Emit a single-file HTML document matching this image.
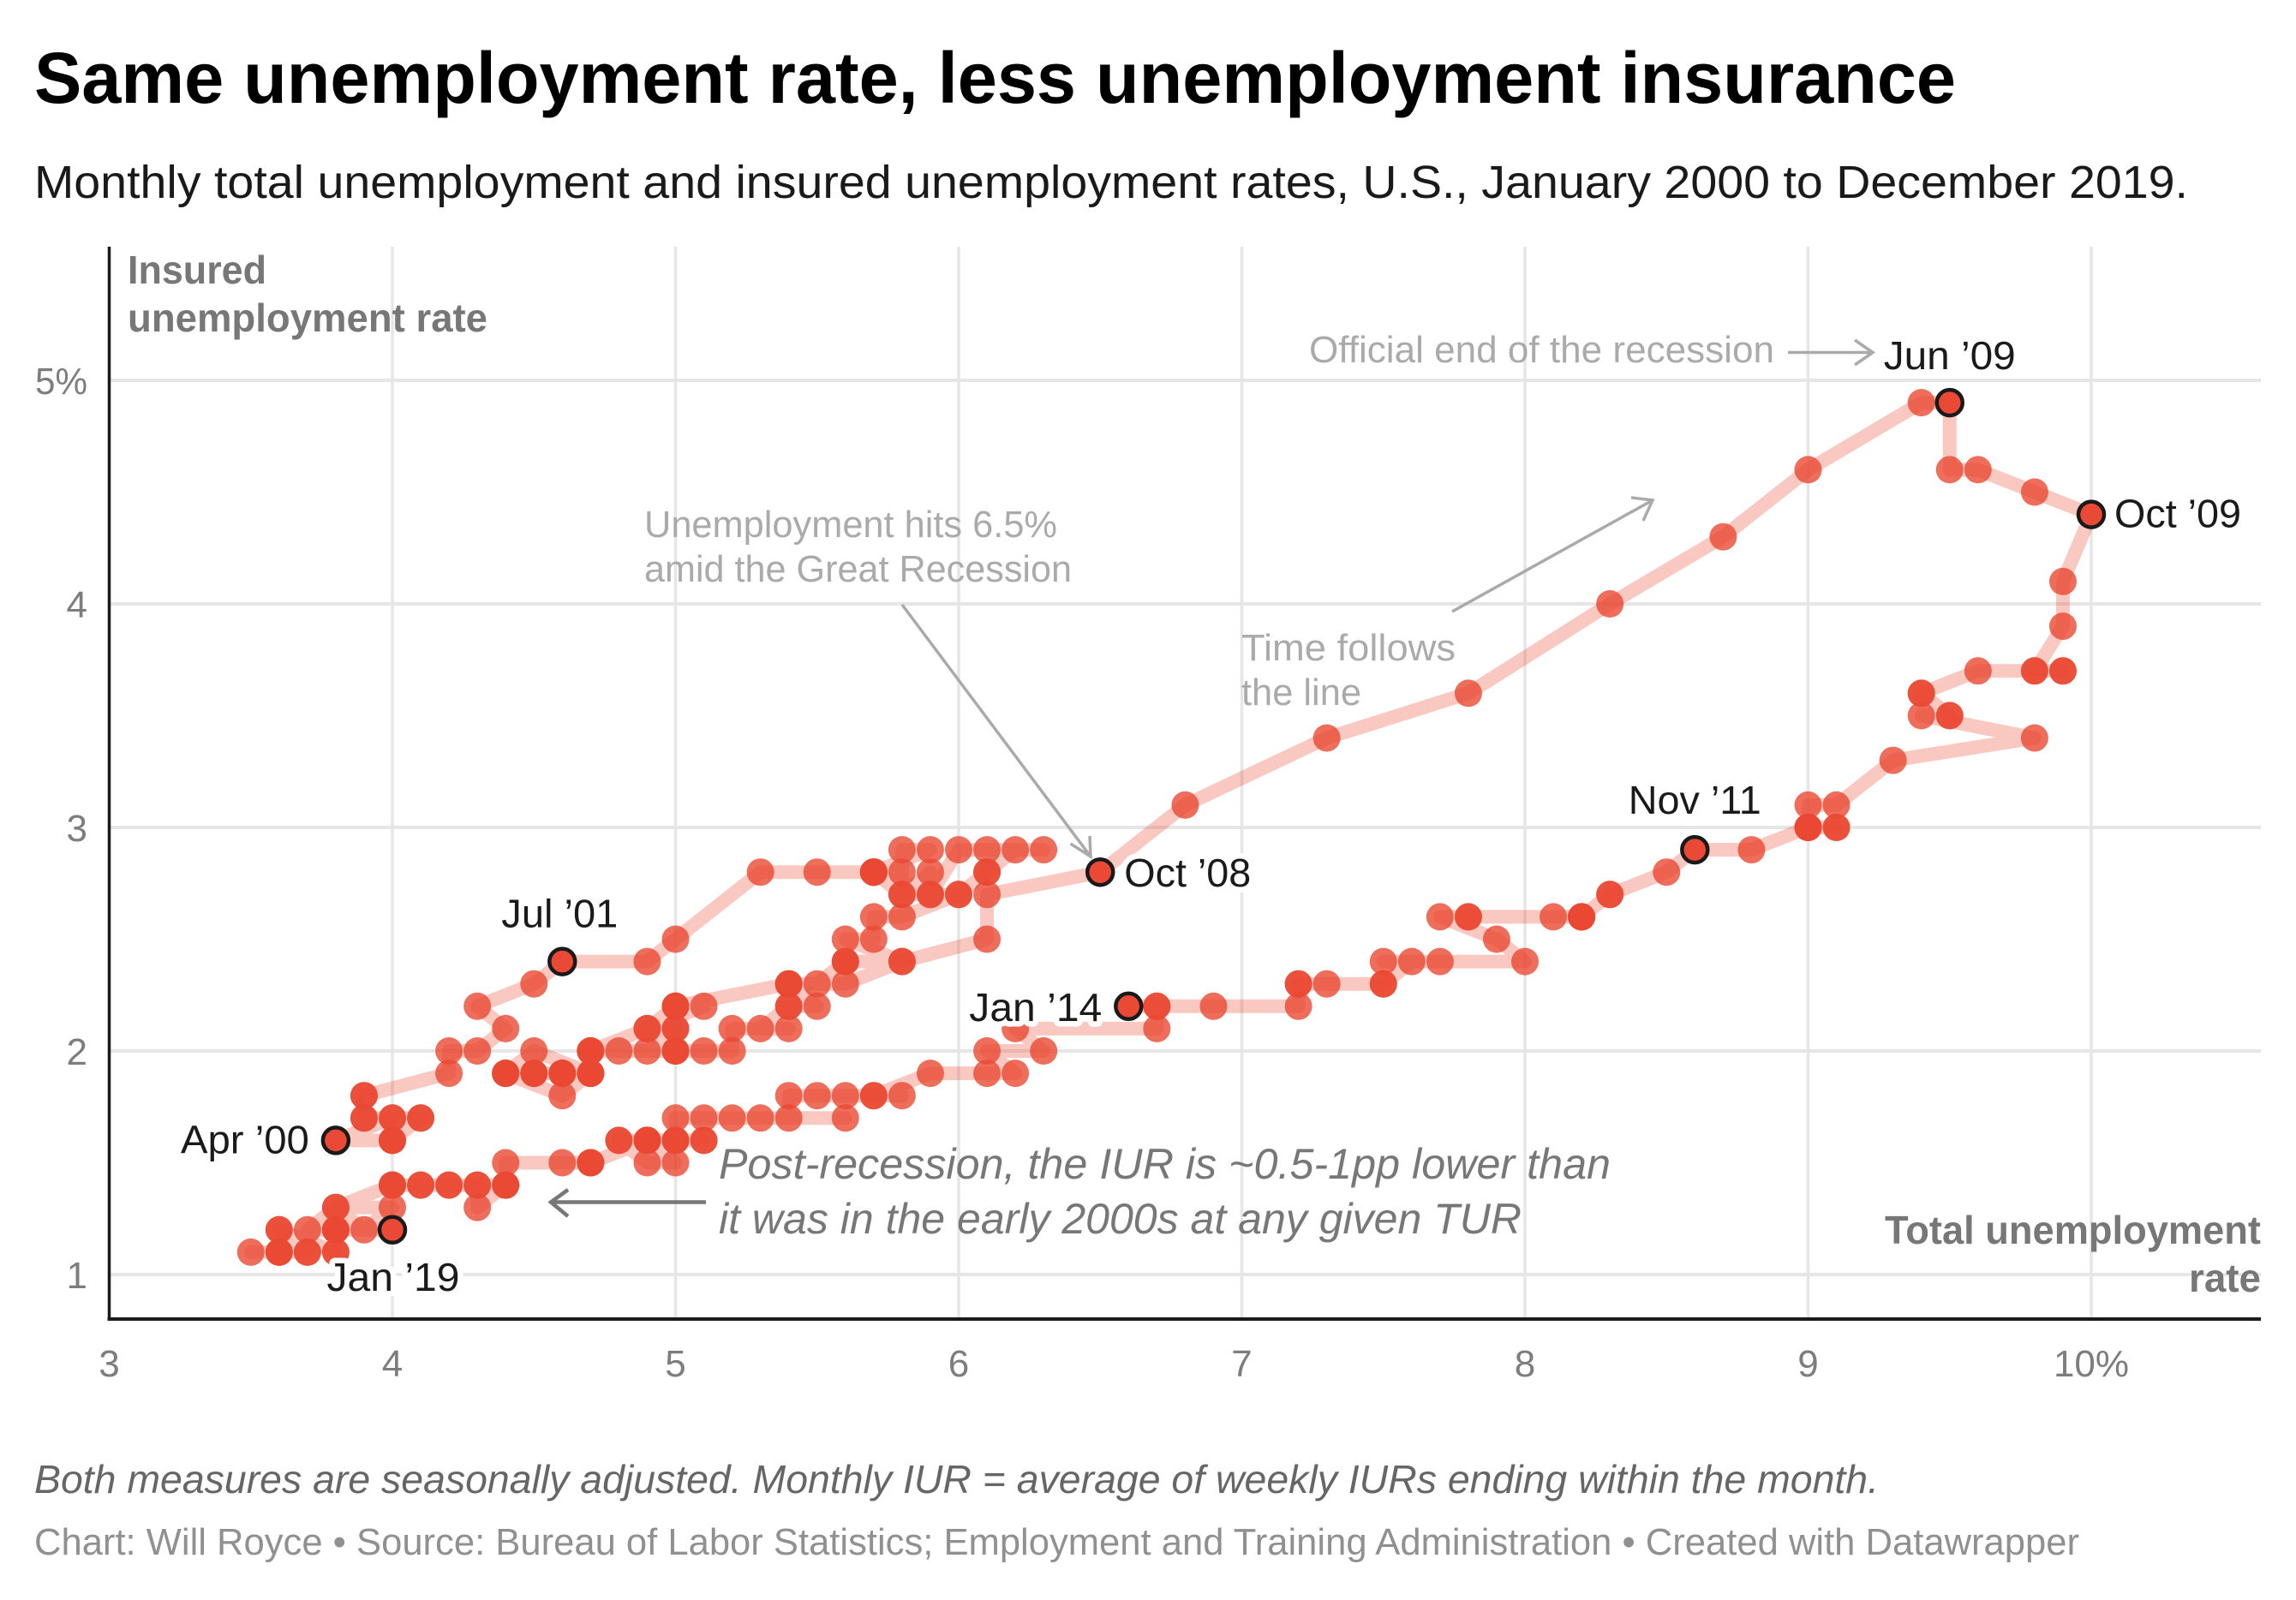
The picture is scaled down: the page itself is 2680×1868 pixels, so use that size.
<!DOCTYPE html>
<html lang="en">
<head>
<meta charset="utf-8">
<title>Same unemployment rate, less unemployment insurance</title>
<style>
html,body{margin:0;padding:0;background:#fff;width:2680px;height:1868px;overflow:hidden}
svg{display:block}
text{font-family:"Liberation Sans",sans-serif}
</style>
</head>
<body>
<svg id="chart" xmlns="http://www.w3.org/2000/svg" width="2680" height="1868" viewBox="0 0 2680 1868">
  <rect x="0" y="0" width="2680" height="1868" fill="#fff"/>
  <text x="40" y="120" font-size="84" font-weight="700" fill="#000" textLength="2243" lengthAdjust="spacingAndGlyphs">Same unemployment rate, less unemployment insurance</text>
  <text x="40" y="231" font-size="54" fill="#1a1a1a" textLength="2514" lengthAdjust="spacingAndGlyphs">Monthly total unemployment and insured unemployment rates, U.S., January 2000 to December 2019.</text>

  <g id="grid"></g>
  <g id="axes"></g>

  <g>
    <text x="149" y="331" font-size="46" font-weight="700" fill="#777" textLength="162" lengthAdjust="spacingAndGlyphs">Insured</text>
    <text x="149" y="387" font-size="46" font-weight="700" fill="#777" textLength="420" lengthAdjust="spacingAndGlyphs">unemployment rate</text>
  </g>
  <g>
    <text x="2639" y="1452" font-size="46" font-weight="700" fill="#777" text-anchor="end" textLength="439" lengthAdjust="spacingAndGlyphs">Total unemployment</text>
    <text x="2639" y="1508" font-size="46" font-weight="700" fill="#777" text-anchor="end" textLength="84" lengthAdjust="spacingAndGlyphs">rate</text>
  </g>

  <g id="series"></g>

  <g>
    <text x="1528" y="423" font-size="44" fill="#aaa" textLength="543" lengthAdjust="spacingAndGlyphs">Official end of the recession</text>
    <path d="M2087 411.5H2186M2165 397L2186 411.5L2165 426" fill="none" stroke="#aaa" stroke-width="3.5"/>
  </g>
  <g>
    <text x="752" y="627" font-size="44" fill="#aaa" textLength="482" lengthAdjust="spacingAndGlyphs">Unemployment hits 6.5%</text>
    <text x="752" y="679" font-size="44" fill="#aaa" textLength="499" lengthAdjust="spacingAndGlyphs">amid the Great Recession</text>
    <path d="M1053 706L1273 1000M1249.5 985L1273 1000L1272 976" fill="none" stroke="#aaa" stroke-width="3.5"/>
  </g>
  <g>
    <text x="1449" y="771" font-size="44" fill="#aaa" textLength="250" lengthAdjust="spacingAndGlyphs">Time follows</text>
    <text x="1449" y="823" font-size="44" fill="#aaa" textLength="140" lengthAdjust="spacingAndGlyphs">the line</text>
    <path d="M1695 714L1929 584M1904 581L1929 584L1918 608" fill="none" stroke="#aaa" stroke-width="3.5"/>
  </g>
  <g>
    <text x="839" y="1376" font-size="50" font-style="italic" fill="#777" textLength="1041" lengthAdjust="spacingAndGlyphs">Post-recession, the IUR is ~0.5-1pp lower than</text>
    <text x="839" y="1440" font-size="50" font-style="italic" fill="#777" textLength="937" lengthAdjust="spacingAndGlyphs">it was in the early 2000s at any given TUR</text>
    <path d="M824 1403.5H643M663 1389L643 1403.5L663 1420" fill="none" stroke="#777" stroke-width="4.5"/>
  </g>

  <text x="40" y="1743" font-size="46" font-style="italic" fill="#666" textLength="2153" lengthAdjust="spacingAndGlyphs">Both measures are seasonally adjusted. Monthly IUR = average of weekly IURs ending within the month.</text>
  <text x="40" y="1815" font-size="44" fill="#909090" textLength="2387" lengthAdjust="spacingAndGlyphs">Chart: Will Royce • Source: Bureau of Labor Statistics; Employment and Training Administration • Created with Datawrapper</text>
</svg>
<script>
// Total unemployment rate, monthly, Jan 2000 - Dec 2019 (one row per year)
const totalRate = [
  4.0,4.1,4.0,3.8,4.0,4.0,4.0,4.1,3.9,3.9,3.9,3.9,
  4.2,4.2,4.3,4.4,4.3,4.5,4.6,4.9,5.0,5.3,5.5,5.7,
  5.7,5.7,5.7,5.9,5.8,5.8,5.8,5.7,5.7,5.7,5.9,6.0,
  5.8,5.9,5.9,6.0,6.1,6.3,6.2,6.1,6.1,6.0,5.8,5.7,
  5.7,5.6,5.8,5.6,5.6,5.6,5.5,5.4,5.4,5.5,5.4,5.4,
  5.3,5.4,5.2,5.2,5.1,5.0,5.0,4.9,5.0,5.0,5.0,4.9,
  4.7,4.8,4.7,4.7,4.6,4.6,4.7,4.7,4.5,4.4,4.5,4.4,
  4.6,4.5,4.4,4.5,4.4,4.6,4.7,4.6,4.7,4.7,4.7,5.0,
  5.0,4.9,5.1,5.0,5.4,5.6,5.8,6.1,6.1,6.5,6.8,7.3,
  7.8,8.3,8.7,9.0,9.4,9.5,9.5,9.6,9.8,10.0,9.9,9.9,
  9.8,9.8,9.9,9.9,9.6,9.4,9.4,9.5,9.5,9.4,9.8,9.3,
  9.1,9.0,9.0,9.1,9.0,9.1,9.0,9.0,9.0,8.8,8.6,8.5,
  8.3,8.3,8.2,8.2,8.2,8.2,8.2,8.1,7.8,7.8,7.7,7.9,
  8.0,7.7,7.5,7.6,7.5,7.5,7.3,7.2,7.2,7.2,6.9,6.7,
  6.6,6.7,6.7,6.2,6.3,6.1,6.2,6.1,5.9,5.7,5.8,5.6,
  5.7,5.5,5.4,5.4,5.6,5.3,5.2,5.1,5.0,5.0,5.1,5.0,
  4.9,4.9,5.0,5.1,4.8,4.9,4.8,4.9,5.0,4.9,4.7,4.7,
  4.7,4.6,4.4,4.4,4.4,4.3,4.3,4.4,4.3,4.2,4.2,4.1,
  4.0,4.1,4.0,4.0,3.8,4.0,3.9,3.8,3.7,3.8,3.8,3.8,
  4.0,3.8,3.8,3.8,3.6,3.6,3.7,3.6,3.5,3.6,3.7,3.6
];
// Insured unemployment rate, same months
const insuredRate = [
  1.7,1.7,1.7,1.6,1.6,1.6,1.6,1.7,1.7,1.7,1.8,1.8,
  1.9,2.0,2.0,2.1,2.2,2.3,2.4,2.4,2.5,2.8,2.8,2.8,
  2.8,2.8,2.8,2.9,2.9,2.8,2.7,2.8,2.8,2.8,2.7,2.7,
  2.7,2.8,2.7,2.9,2.9,2.9,2.9,2.8,2.8,2.7,2.6,2.6,
  2.5,2.5,2.4,2.4,2.4,2.4,2.3,2.3,2.3,2.2,2.2,2.2,
  2.1,2.1,2.1,2.0,2.0,2.0,2.0,2.0,2.1,2.2,2.2,2.1,
  2.0,2.0,2.0,1.9,1.9,1.9,1.9,1.9,2.0,1.9,1.9,1.9,
  1.9,1.9,1.9,1.9,1.9,1.8,1.9,1.9,1.9,2.0,2.0,2.0,
  2.1,2.1,2.2,2.2,2.3,2.3,2.4,2.5,2.7,2.8,3.1,3.4,
  3.6,4.0,4.3,4.6,4.9,4.9,4.6,4.6,4.5,4.4,4.1,3.9,
  3.7,3.7,3.7,3.7,3.7,3.6,3.6,3.5,3.5,3.5,3.4,3.3,
  3.1,3.1,3.0,3.0,3.0,3.0,3.0,3.0,3.0,2.9,2.9,2.8,
  2.7,2.7,2.6,2.6,2.6,2.6,2.6,2.6,2.6,2.6,2.6,2.5,
  2.4,2.4,2.4,2.4,2.3,2.3,2.3,2.3,2.3,2.2,2.2,2.2,
  2.2,2.2,2.1,2.1,2.0,2.0,1.9,1.9,1.9,1.8,1.8,1.8,
  1.8,1.8,1.8,1.7,1.7,1.7,1.7,1.7,1.7,1.6,1.6,1.6,
  1.6,1.6,1.6,1.6,1.6,1.6,1.6,1.5,1.5,1.6,1.5,1.5,
  1.5,1.5,1.5,1.4,1.4,1.4,1.3,1.4,1.4,1.4,1.4,1.4,
  1.4,1.4,1.4,1.4,1.3,1.3,1.2,1.3,1.2,1.2,1.2,1.2,
  1.2,1.2,1.1,1.1,1.2,1.2,1.1,1.1,1.1,1.1,1.1,1.1
];
const xTicks = [3,4,5,6,7,8,9,10];
const xTickLabels = ["3","4","5","6","7","8","9","10%"];
const yTicks = [1,2,3,4,5];
const yTickLabels = ["1","2","3","4","5%"];

const SVG_NS = 'http://www.w3.org/2000/svg';
const PLOT = {left:127.5,right:2639,top:288,bottom:1540};
function xScale(v){return 127.5+(v-3)*330.5;}
function yScale(v){return 1488-(v-1)*261;}
function mk(tag,attrs,parent){
  const el=document.createElementNS(SVG_NS,tag);
  for(const k in attrs){el.setAttribute(k,attrs[k]);}
  parent.appendChild(el);
  return el;
}
const grid=document.getElementById('grid');
const axes=document.getElementById('axes');
const series=document.getElementById('series');

xTicks.forEach(function(t,i){
  const g=mk('line',{x1:xScale(t),x2:xScale(t),y1:PLOT.top,y2:PLOT.bottom,stroke:'#e6e6e6','stroke-width':3.5},grid);
  
  
  const lb=mk('text',{x:xScale(t),y:1607,'font-size':44,fill:'#7d7d7d','text-anchor':'middle'},axes);
  lb.textContent=xTickLabels[i];
  
  
});
yTicks.forEach(function(t,i){
  const g=mk('line',{x1:PLOT.left,x2:PLOT.right,y1:yScale(t),y2:yScale(t),stroke:'#e6e6e6','stroke-width':4},grid);
  
  
  const lb=mk('text',{x:102,y:yScale(t)+16,'font-size':44,fill:'#7d7d7d','text-anchor':'end'},axes);
  lb.textContent=yTickLabels[i];
  if(yTickLabels[i].length>1){lb.setAttribute('textLength','61');lb.setAttribute('lengthAdjust','spacingAndGlyphs');}
  
  
});
const yAxis=mk('line',{x1:PLOT.left,x2:PLOT.left,y1:PLOT.top,y2:PLOT.bottom+2,stroke:'#1a1a1a','stroke-width':3.5},axes);


const xAxis=mk('line',{x1:PLOT.left-2,x2:PLOT.right,y1:PLOT.bottom,y2:PLOT.bottom,stroke:'#1a1a1a','stroke-width':4},axes);



const pathPoints=totalRate.map(function(v,i){return xScale(v)+','+yScale(insuredRate[i]);}).join(' ');
const trail=mk('polyline',{points:pathPoints,fill:'none',stroke:'rgb(234,72,50)','stroke-opacity':0.3,'stroke-width':16,'stroke-linejoin':'round','stroke-linecap':'round'},series);



totalRate.forEach(function(v,i){
  const dot=mk('circle',{cx:xScale(v),cy:yScale(insuredRate[i]),r:16,fill:'rgb(234,72,50)','fill-opacity':0.8},series);
  
  
});

function highlight(month,text,anchor,dx,dy,width){
  const px=xScale(totalRate[month]);
  const py=yScale(insuredRate[month]);
  const dot=mk('circle',{cx:px,cy:py,r:15,fill:'#ea4a35',stroke:'#1a1a1a','stroke-width':4.5},series);
  
  
  const lb=mk('text',{x:px+dx,y:py+dy,'font-size':46,fill:'#1a1a1a','text-anchor':anchor,textLength:width,lengthAdjust:'spacingAndGlyphs',stroke:'#fff','stroke-width':13,'stroke-linejoin':'round','paint-order':'stroke fill'},series);
  lb.textContent=text;
  
  
}
highlight(3,'Apr ’00','end',-31,15,150);
highlight(18,'Jul ’01','middle',-3,-40,136);
highlight(105,'Oct ’08','start',28,17,148);
highlight(113,'Jun ’09','middle',0,-39,154);
highlight(117,'Oct ’09','start',27,15,148);
highlight(142,'Nov ’11','middle',0,-42,155);
highlight(168,'Jan ’14','end',-31,17,155);
highlight(228,'Jan ’19','middle',1,71,155);
</script>
</body>
</html>
